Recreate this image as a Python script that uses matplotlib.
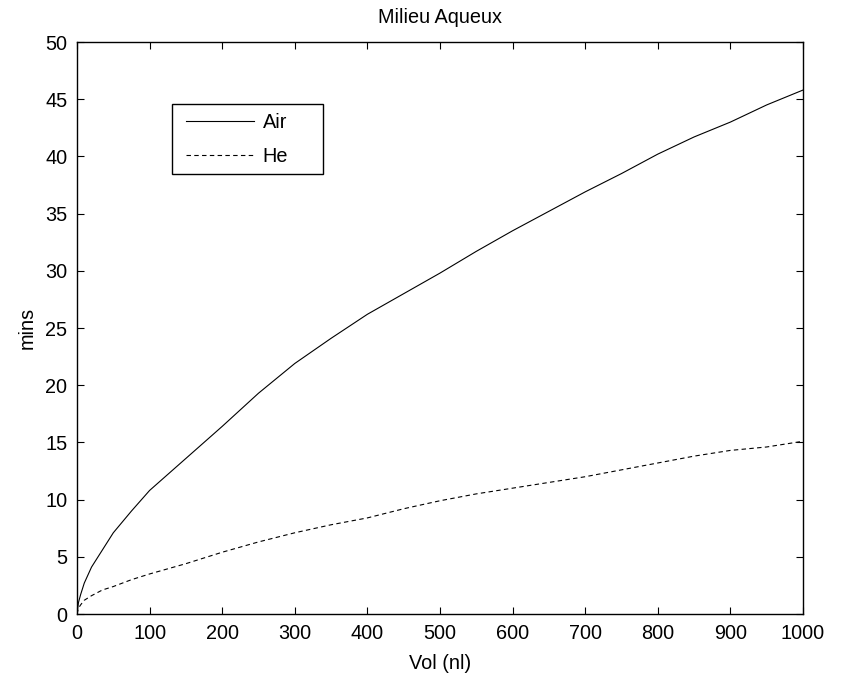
import matplotlib
matplotlib.use("Agg")
import matplotlib.pyplot as plt
from matplotlib.patches import Rectangle

vol = [0, 2, 5, 10, 20, 35, 50, 75, 100, 150, 200, 250, 300, 350, 400, 450, 500,
       550, 600, 650, 700, 750, 800, 850, 900, 950, 1000]
air = [0, 1.0, 1.7, 2.7, 4.1, 5.6, 7.1, 9.0, 10.8, 13.6, 16.4, 19.3, 21.9, 24.1, 26.2, 28.0, 29.8,
       31.7, 33.5, 35.2, 36.9, 38.5, 40.2, 41.7, 43.0, 44.5, 45.8]
he = [0, 0.5, 0.8, 1.2, 1.6, 2.1, 2.4, 3.0, 3.5, 4.4, 5.4, 6.3, 7.1, 7.8, 8.4, 9.2, 9.9,
      10.5, 11.0, 11.5, 12.0, 12.6, 13.2, 13.8, 14.3, 14.6, 15.1]
labels = ["Air", "He"]
title = "Milieu Aqueux"
xlabel = "Vol (nl)"
ylabel = "mins"

plt.rcParams['font.family'] = ['Liberation Sans', 'DejaVu Sans']
W, H = 845, 676
fig = plt.figure(figsize=(W / 100, H / 100), dpi=100)
ax = fig.add_axes([77 / W, 1 - 614 / H, (803 - 77) / W, (614 - 42) / H])

ax.plot(vol, air, color='black', lw=0.8, label=labels[0])
ax.plot(vol, he, color='black', lw=0.8, dashes=(4, 3), label=labels[1])

ax.set_xlim(0, 1000)
ax.set_ylim(0, 50)
ax.set_xticks(range(0, 1001, 100))
ax.set_yticks(range(0, 51, 5))
ax.tick_params(direction='in', length=5, width=0.8, top=True, right=True,
               labelsize=14.3, pad=7)
for s in ax.spines.values():
    s.set_linewidth(1.0)

ax.set_title(title, fontsize=14.3, pad=14)
ax.set_xlabel(xlabel, fontsize=14.3, labelpad=8)
ax.set_ylabel(ylabel, fontsize=14.3, labelpad=6)

# legend frame (MATLAB-style box) and contents
frame = Rectangle((172 / W, 1 - 174 / H), (323 - 172) / W, (174 - 104) / H,
                  transform=fig.transFigure, fill=True, facecolor='white',
                  edgecolor='black', linewidth=1.0, zorder=4, clip_on=False)
ax.add_patch(frame)
leg = ax.legend(loc='upper left', bbox_to_anchor=(186 / W, 1 - 113 / H),
                bbox_transform=fig.transFigure, borderaxespad=0, borderpad=0,
                fontsize=14.3, frameon=False,
                handlelength=3.4, handletextpad=0.45, labelspacing=0.74)
leg.set_zorder(6)

fig.savefig("out.png", dpi=100)
